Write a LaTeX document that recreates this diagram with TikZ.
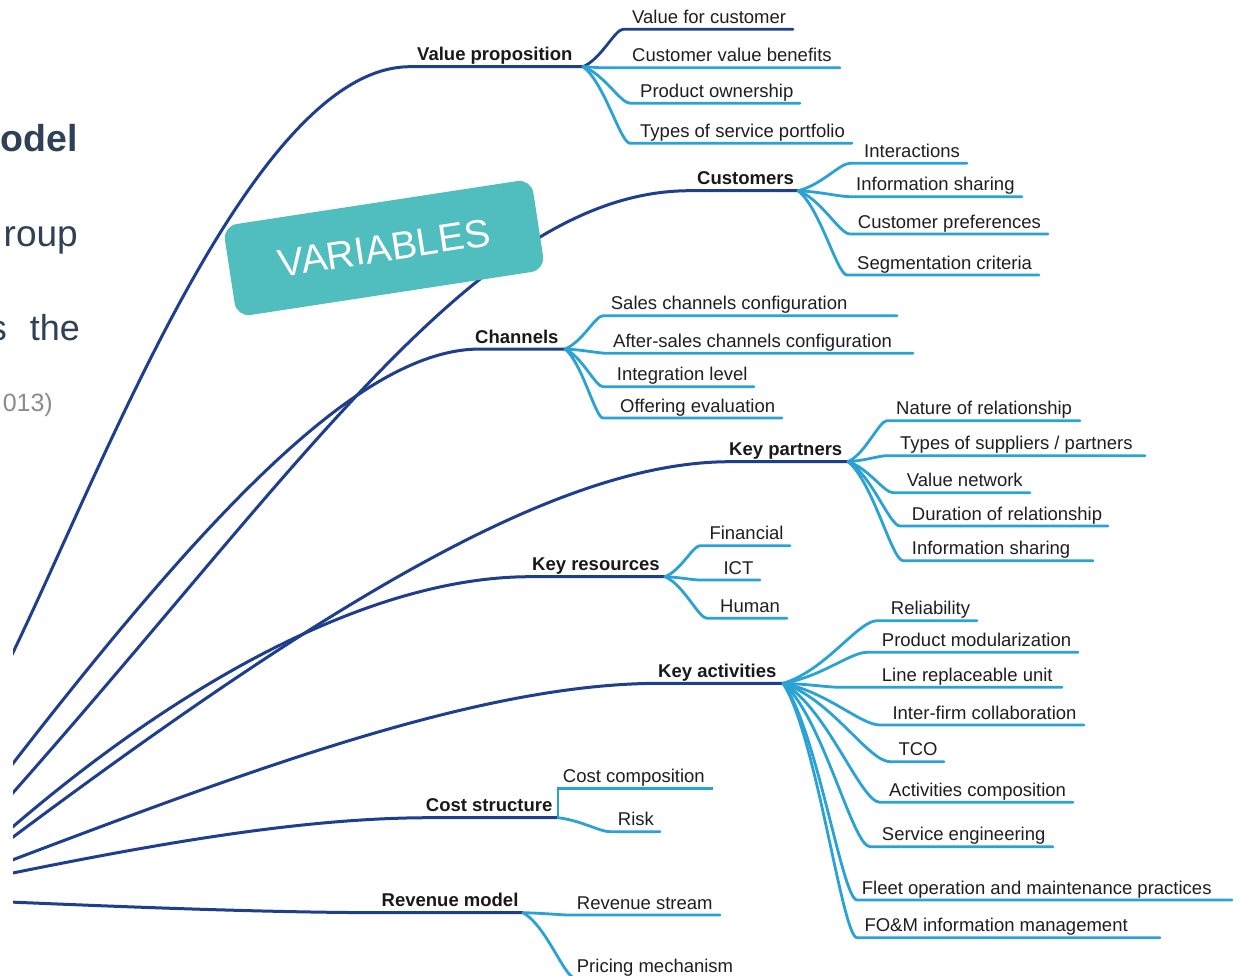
\documentclass[tikz,border=0pt]{standalone}
\usepackage{fontspec}
\setmainfont{Liberation Sans}
\usetikzlibrary{calc}
\definecolor{mainblue}{RGB}{31,62,140}
\definecolor{lightblue}{RGB}{42,162,212}
\definecolor{tealbox}{RGB}{80,189,190}
\definecolor{slate}{RGB}{46,65,86}
\definecolor{greytext}{RGB}{140,140,140}
\tikzset{
  mainline/.style={draw=mainblue, line width=3pt},
  kidline/.style={draw=lightblue, line width=2.8pt, line cap=round},
  kidtext/.style={anchor=base west, inner sep=0pt, font=\fontsize{18.5}{20}\selectfont, text=black!88},
  maintext/.style={anchor=base west, inner sep=0pt, font=\fontsize{18.5}{20}\selectfont\bfseries, text=black!90},
  slidetext/.style={anchor=base east, inner sep=0pt, text=slate},
  varbox/.style={fill=tealbox, rounded corners=14pt, minimum width=312pt, minimum height=92pt, inner sep=0pt, text=white, font=\fontsize{39}{40}\selectfont}
}
% #1 extra style, #2 junction, #3 name, #4 sx, #5 sy, #6 ex, #7 text x, #8 text
\newcommand\kid[8][]{%
  \coordinate (#3s) at (#4,#5);
  \coordinate (#3e) at (#6,#5);
  \node[kidtext] (#3) at (#7,#5-6) {#8};
  \draw[kidline,#1] let \p1=(#2), \p2=(#3s) in (#2) .. controls ({\x1+0.45*(\x2-\x1)},{\y1+0.2*(\y2-\y1)}) and ({\x1+0.8*(\x2-\x1)},\y2) .. (#3s) -- (#3e);
}
\begin{document}
\begin{tikzpicture}[x=1pt,y=-1pt]
\useasboundingbox (0,0) rectangle (1241,975);
\fill[white] (0,0) rectangle (1241,975);

% slide text at the left edge
\begin{scope}
\clip (0,0) rectangle (1241,975);
\node[slidetext, font=\fontsize{37.5}{40}\selectfont\bfseries] (tmodel) at (78,151.7) {odel};
\node[slidetext, font=\fontsize{37}{40}\selectfont] (tgroup) at (78,246.7) {roup};
\node[slidetext, font=\fontsize{36}{40}\selectfont] (ts) at (7,340) {s};
\node[slidetext, font=\fontsize{36}{40}\selectfont] (tthe) at (80,340) {the};
\node[slidetext, font=\fontsize{25}{28}\selectfont, text=greytext] (tyear) at (53,411.7) {013)};
\end{scope}

\begin{scope}
\clip (13,0) rectangle (1241,975);
% junctions
\coordinate (j1) at (583,66.7);
\coordinate (j2) at (798,190.7);
\coordinate (j3) at (565,349);
\coordinate (j4) at (848,461.7);
\coordinate (j5) at (665,576.7);
\coordinate (j6) at (783,683.3);
\coordinate (j7) at (558,817.7);
\coordinate (j8) at (523,912.7);
% root-side ends
\coordinate (r1) at (3,673);
\coordinate (r2) at (3,804);
\coordinate (r3) at (4,775);
\coordinate (r4) at (1,846);
\coordinate (r5) at (1,837);
\coordinate (r6) at (-1,865);
\coordinate (r7) at (-2,876);
\coordinate (r8) at (-2,901.5);

% main branches
\draw[mainline] (r1) .. controls (98,482) and (250,66.7) .. (410,66.7) -- (j1);
\draw[mainline] (r2) .. controls (300,470) and (480,190.7) .. (690,190.7) -- (j2);
\draw[mainline] (r3) .. controls (205,515) and (360,349) .. (480,349) -- (j3);
\draw[mainline] (r4) .. controls (330,600) and (560,461.7) .. (730,461.7) -- (j4);
\draw[mainline] (r5) .. controls (190,672) and (380,576.7) .. (530,576.7) -- (j5);
\draw[mainline] (r6) .. controls (250,770) and (480,683.3) .. (660,683.3) -- (j6);
\draw[mainline] (r7) .. controls (150,845) and (300,817.7) .. (430,817.7) -- (j7);
\draw[mainline] (r8) .. controls (150,908) and (280,912.7) .. (390,912.7) -- (j8);

% main labels
\node[maintext] (vp) at (417,60.7) {Value proposition};
\node[maintext] (cu) at (697,184.7) {Customers};
\node[maintext] (ch) at (475,343) {Channels};
\node[maintext] (kp) at (729,455.7) {Key partners};
\node[maintext] (kr) at (532,570.7) {Key resources};
\node[maintext] (ka) at (658,677.3) {Key activities};
\node[maintext] (cs) at (425.7,811.7) {Cost structure};
\node[maintext] (rm) at (381.5,906.7) {Revenue model};

% Value proposition
\kid[draw=mainblue]{j1}{vpa}{623}{29.3}{793}{632}{Value for customer}
\kid{j1}{vpb}{600}{67.7}{840}{632}{Customer value benefits}
\kid{j1}{vpc}{630}{103.3}{800}{640}{Product ownership}
\kid{j1}{vpd}{630}{143.3}{852}{640}{Types of service portfolio}
% Customers
\kid{j2}{cua}{850}{163.3}{967}{864}{Interactions}
\kid{j2}{cub}{850}{196.7}{1022}{856}{Information sharing}
\kid{j2}{cuc}{850}{234}{1048}{857.7}{Customer preferences}
\kid{j2}{cud}{847}{275}{1039}{857}{Segmentation criteria}
% Channels
\kid{j3}{cha}{603}{315.7}{897}{610.7}{Sales channels configuration}
\kid{j3}{chb}{607}{353.3}{913}{613}{After-sales channels configuration}
\kid{j3}{chc}{603}{386.7}{754}{616.7}{Integration level}
\kid{j3}{chd}{603}{418}{782}{620}{Offering evaluation}
% Key partners
\kid{j4}{kpa}{887}{420.7}{1080}{896}{Nature of relationship}
\kid{j4}{kpb}{887}{455.7}{1145}{900}{Types of suppliers / partners}
\kid{j4}{kpc}{893}{492.7}{1030}{906.7}{Value network}
\kid{j4}{kpd}{900}{526}{1108}{911.7}{Duration of relationship}
\kid{j4}{kpe}{903}{560.7}{1093}{911.7}{Information sharing}
% Key resources
\kid{j5}{kra}{700}{545.7}{790}{709.3}{Financial}
\kid{j5}{krb}{700}{580}{760}{723.3}{ICT}
\kid{j5}{krc}{707}{618.3}{787}{720}{Human}
% Key activities
\kid{j6}{kaa}{877}{620.7}{977}{890.7}{Reliability}
\kid{j6}{kab}{867}{652.3}{1078}{881.7}{Product modularization}
\kid{j6}{kac}{840}{687.3}{1062}{881.7}{Line replaceable unit}
\kid{j6}{kad}{880}{725}{1084}{892.3}{Inter-firm collaboration}
\kid{j6}{kae}{890}{761.7}{944}{898.3}{TCO}
\kid{j6}{kaf}{880}{802.3}{1073}{889}{Activities composition}
\kid{j6}{kag}{870}{846.7}{1053}{881.7}{Service engineering}
\kid{j6}{kah}{857}{900}{1232}{861.7}{Fleet operation and maintenance practices}
\kid{j6}{kai}{857}{937.7}{1160}{864.3}{FO\&M information management}
% Cost structure
\coordinate (csae) at (713,788.3);
\node[kidtext] (csa) at (562.7,782.7) {Cost composition};
\draw[kidline, line cap=butt] (j7) -- (j7 |- csae) -- (csae);
\kid{j7}{csb}{610}{831.7}{660}{617.7}{Risk}
% Revenue model
\kid{j8}{rma}{570}{915}{720}{576.7}{Revenue stream}
\kid{j8}{rmb}{575}{978}{740}{576.7}{Pricing mechanism}
\end{scope}

% overlay label
\node[varbox, rotate=8.7] (var) at (384,248) {VARIABLES};
\end{tikzpicture}
\end{document}
